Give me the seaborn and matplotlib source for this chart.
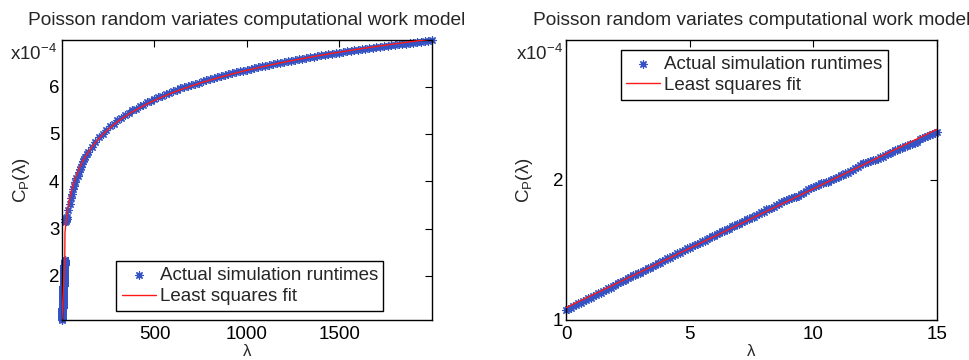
import numpy as np
import matplotlib
matplotlib.use("Agg")
import matplotlib.pyplot as plt
import seaborn as sns

# ---------------- data (runtimes in units of 1e-4) ----------------
lam_small = [
    0.0, 0.1, 0.2, 0.3, 0.4, 0.5, 0.6, 0.7, 0.8, 0.9,
    1.0, 1.1, 1.2, 1.3, 1.4, 1.5, 1.6, 1.7, 1.8, 1.9,
    2.0, 2.1, 2.2, 2.3, 2.4, 2.5, 2.6, 2.7, 2.8, 2.9,
    3.0, 3.1, 3.2, 3.3, 3.4, 3.5, 3.6, 3.7, 3.8, 3.9,
    4.0, 4.1, 4.2, 4.3, 4.4, 4.5, 4.6, 4.7, 4.8, 4.9,
    5.0, 5.1, 5.2, 5.3, 5.4, 5.5, 5.6, 5.7, 5.8, 5.9,
    6.0, 6.1, 6.2, 6.3, 6.4, 6.5, 6.6, 6.7, 6.8, 6.9,
    7.0, 7.1, 7.2, 7.3, 7.4, 7.5, 7.6, 7.7, 7.8, 7.9,
    8.0, 8.1, 8.2, 8.3, 8.4, 8.5, 8.6, 8.7, 8.8, 8.9,
    9.0, 9.1, 9.2, 9.3, 9.4, 9.5, 9.6, 9.7, 9.8, 9.9,
    10.0, 10.1, 10.2, 10.3, 10.4, 10.5, 10.6, 10.7, 10.8, 10.9,
    11.0, 11.1, 11.2, 11.3, 11.4, 11.5, 11.6, 11.7, 11.8, 11.9,
    12.0, 12.1, 12.2, 12.3, 12.4, 12.5, 12.6, 12.7, 12.8, 12.9,
    13.0, 13.1, 13.2, 13.3, 13.4, 13.5, 13.6, 13.7, 13.8, 13.9,
    14.0, 14.1, 14.2, 14.3, 14.4, 14.5, 14.6, 14.7, 14.8, 14.9,
    15.0,
]
cost_small = [
    1.068, 1.082, 1.087, 1.100, 1.106, 1.119, 1.124, 1.137, 1.142, 1.155,
    1.160, 1.174, 1.178, 1.191, 1.196, 1.210, 1.214, 1.228, 1.232, 1.246,
    1.250, 1.264, 1.268, 1.281, 1.286, 1.299, 1.305, 1.318, 1.322, 1.336,
    1.339, 1.353, 1.357, 1.371, 1.375, 1.389, 1.393, 1.406, 1.410, 1.424,
    1.428, 1.442, 1.445, 1.459, 1.463, 1.477, 1.480, 1.494, 1.498, 1.512,
    1.515, 1.529, 1.533, 1.546, 1.550, 1.564, 1.567, 1.581, 1.585, 1.598,
    1.602, 1.615, 1.619, 1.633, 1.636, 1.650, 1.653, 1.668, 1.671, 1.684,
    1.688, 1.701, 1.705, 1.718, 1.722, 1.735, 1.739, 1.752, 1.756, 1.769,
    1.773, 1.790, 1.795, 1.803, 1.806, 1.818, 1.826, 1.842, 1.848, 1.858,
    1.866, 1.872, 1.878, 1.882, 1.889, 1.901, 1.906, 1.920, 1.934, 1.942,
    1.947, 1.955, 1.966, 1.978, 1.980, 1.984, 1.988, 1.997, 2.009, 2.016,
    2.021, 2.033, 2.037, 2.049, 2.053, 2.066, 2.070, 2.083, 2.094, 2.110,
    2.118, 2.120, 2.132, 2.138, 2.140, 2.146, 2.150, 2.162, 2.166, 2.179,
    2.183, 2.195, 2.198, 2.211, 2.214, 2.227, 2.230, 2.243, 2.246, 2.259,
    2.254, 2.262, 2.272, 2.292, 2.300, 2.309, 2.316, 2.323, 2.330, 2.338,
    2.345,
]
lam_large = [
    16, 18, 20, 22, 24, 26, 28, 35, 41, 48, 54, 60, 66, 72, 78, 84, 90, 96,
    102, 108, 114, 120, 127, 134, 140, 160, 180, 200, 220, 240, 260, 280,
    300, 320, 340, 360, 380, 400, 420, 440, 460, 480, 500, 520, 540, 560,
    580, 600, 620, 640, 660, 680, 700, 720, 740, 760, 780, 800, 820, 840,
    860, 880, 900, 920, 940, 960, 980, 1000, 1020, 1040, 1060, 1080, 1100,
    1120, 1140, 1160, 1180, 1200, 1220, 1240, 1260, 1280, 1300, 1320, 1340,
    1360, 1380, 1400, 1420, 1440, 1460, 1480, 1500, 1520, 1540, 1560, 1580,
    1600, 1620, 1640, 1660, 1680, 1700, 1720, 1740, 1760, 1780, 1800, 1820,
    1840, 1860, 1880, 1900, 1920, 1940, 1960, 1980, 2000,
]
cost_large = [
    3.13, 3.20, 3.15, 3.23, 3.18, 3.25, 3.21, 3.40, 3.52, 3.64, 3.74, 3.83,
    3.91, 3.98, 4.06, 4.12, 4.19, 4.25, 4.31, 4.37, 4.42, 4.47, 4.52, 4.57,
    4.61, 4.73, 4.82, 4.94, 5.00, 5.09, 5.16, 5.22, 5.29, 5.34, 5.40, 5.44,
    5.50, 5.53, 5.59, 5.62, 5.67, 5.70, 5.745, 5.77, 5.81, 5.845, 5.87,
    5.905, 5.93, 5.965, 5.985, 6.015, 6.04, 6.065, 6.085, 6.115, 6.13,
    6.16, 6.175, 6.205, 6.22, 6.245, 6.26, 6.285, 6.30, 6.325, 6.34, 6.36,
    6.375, 6.395, 6.41, 6.43, 6.44, 6.46, 6.475, 6.49, 6.505, 6.52, 6.535,
    6.55, 6.56, 6.58, 6.59, 6.605, 6.62, 6.63, 6.645, 6.66, 6.67, 6.685,
    6.695, 6.71, 6.72, 6.73, 6.745, 6.755, 6.765, 6.78, 6.79, 6.80, 6.81,
    6.82, 6.83, 6.845, 6.85, 6.865, 6.87, 6.885, 6.89, 6.905, 6.91, 6.925,
    6.93, 6.945, 6.95, 6.965, 6.97, 6.985,
]

title_text = "Poisson random variates computational work model"
ylabel_text = "C$_P$(λ)"
xlabel_text = "λ"
exp_text = "x10$^{-4}$"
legend_labels = ["Actual simulation runtimes", "Least squares fit"]
left_xticks = [500, 1000, 1500]
left_yticks = [2, 3, 4, 5, 6]
right_xticks = [0, 5, 10, 15]
right_yticks = [1, 2]

# ---------------- least squares fits ----------------
p_small = np.polyfit(lam_small, cost_small, 1)
fit_small = np.polyval(p_small, lam_small)
p_large = np.polyfit(np.log(lam_large), cost_large, 2)
fit_large = np.polyval(p_large, np.log(lam_large))

lam_all = list(lam_small) + list(lam_large)
cost_all = list(cost_small) + list(cost_large)
fit_all = list(fit_small) + list(fit_large)

# ---------------- style ----------------
sns.set_style("white")
plt.rcParams["font.family"] = ["Liberation Sans", "DejaVu Sans"]
plt.rcParams["mathtext.default"] = "regular"
plt.rcParams["mathtext.fontset"] = "custom"
plt.rcParams["mathtext.rm"] = "Liberation Sans"
plt.rcParams["mathtext.it"] = "Liberation Sans:italic"
plt.rcParams["axes.edgecolor"] = "black"
plt.rcParams["axes.linewidth"] = 1.0

FS = 13.5
BLUE = "#3553c4"
RED = "#ff1a1a"
STAR = (8, 2, 0)

fig = plt.figure(figsize=(9.7, 3.6), dpi=100)
W, H = 970.0, 360.0
axL = fig.add_axes([62 / W, 40 / H, 370 / W, 280 / H])
axR = fig.add_axes([566 / W, 40 / H, 371 / W, 280 / H])


def draw(ax, lam, cost, fit):
    sns.scatterplot(x=lam, y=cost, ax=ax, marker=STAR, color=BLUE, s=28,
                    linewidth=0.9, label=legend_labels[0], clip_on=False,
                    zorder=2)
    sns.lineplot(x=lam, y=fit, ax=ax, color=RED, linewidth=1.0,
                 estimator=None, sort=False, label=legend_labels[1], zorder=3)


draw(axL, lam_all, cost_all, fit_all)
draw(axR, lam_small, cost_small, fit_small)

axL.set_xlim(0, 2000)
axL.set_ylim(1.068, 6.985)
axL.set_xticks(left_xticks)
axL.set_yticks(left_yticks)
axR.set_xlim(0, 15)
axR.set_ylim(1, 3)
axR.set_xticks(right_xticks)
axR.set_yticks(right_yticks)

for ax, leg_center, ylab_x, exp_x in [
    (axL, (0.508, 0.121), -30 / 370, 57 / W),
    (axR, (0.507, 0.875), -31 / 371, 563 / W),
]:
    for sp in ax.spines.values():
        sp.set_visible(True)
        sp.set_color("black")
        sp.set_linewidth(1.0)
    ax.tick_params(direction="in", top=True, right=True, length=5,
                   width=0.8, labelsize=FS, colors="black")
    ax.tick_params(axis="x", pad=4.5)
    ax.tick_params(axis="y", pad=2)
    ax.set_title(title_text, fontsize=13.8, pad=10.8)
    ax.set_xlabel(xlabel_text, fontsize=12.2)
    ax.xaxis.label.set_verticalalignment("bottom")
    ax.xaxis.set_label_coords(0.5, -39.5 / 280)
    ax.set_ylabel(ylabel_text, fontsize=FS)
    ax.yaxis.set_label_coords(ylab_x, 0.5)
    leg = ax.legend(loc="center", bbox_to_anchor=leg_center, fontsize=FS,
                    frameon=True, fancybox=False, framealpha=1,
                    edgecolor="black", borderpad=0.3, labelspacing=0.2,
                    handlelength=1.8, handletextpad=0.2, borderaxespad=0)
    leg.get_frame().set_linewidth(1.0)
    fig.text(exp_x, 1 - 60 / H, exp_text, fontsize=FS, ha="right",
             va="baseline")

fig.savefig("out.png", dpi=100, facecolor="white")
